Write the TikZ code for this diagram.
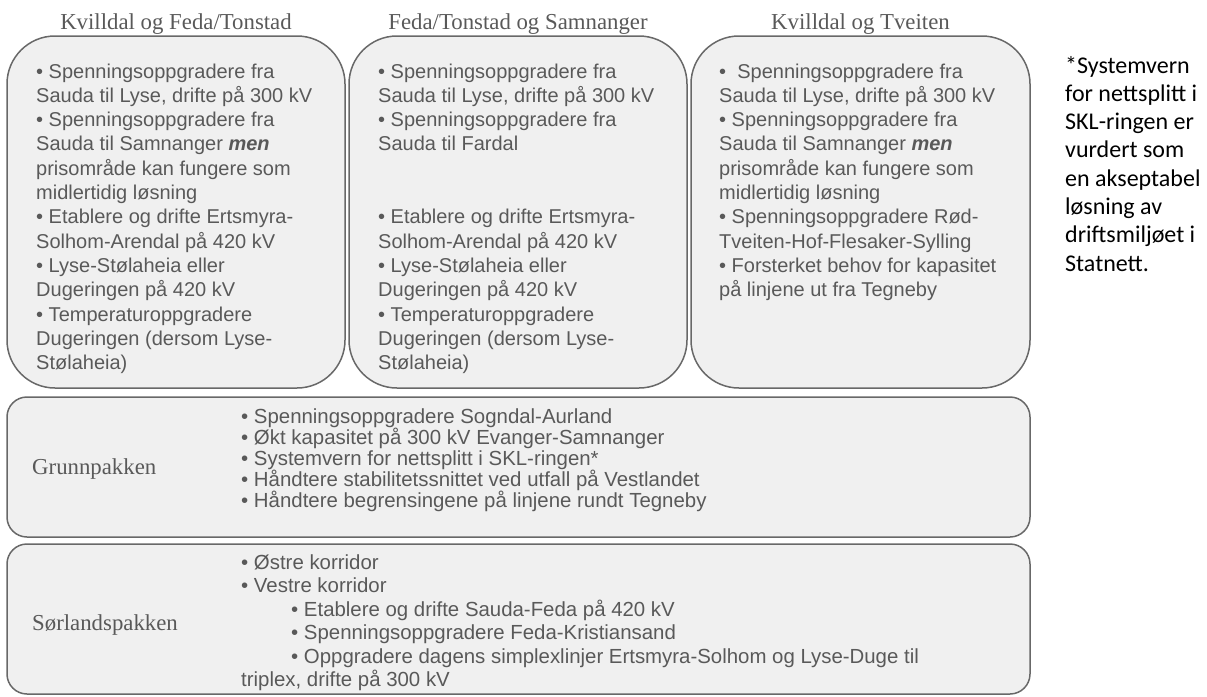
\documentclass[tikz,border=0pt]{standalone}
\usepackage{fontspec}
\setmainfont{Liberation Sans}
\newfontfamily\titlefont{Liberation Serif}
\newfontfamily\notefont{Carlito}
\usetikzlibrary{positioning}
\definecolor{boxfill}{HTML}{F0F0F0}
\definecolor{boxline}{HTML}{686868}
\definecolor{textgray}{HTML}{595959}

\begin{document}
\begin{tikzpicture}[x=1pt,y=-1pt,
        top box/.style={draw=boxline,fill=boxfill,line width=1.5pt,rounded corners=48pt,
            inner sep=0pt,minimum height=352pt},
        pakke box/.style={draw=boxline,fill=boxfill,line width=1.5pt,rounded corners=20pt,
            inner sep=0pt,minimum width=1023pt},
        title node/.style={font=\titlefont\fontsize{22.8}{27}\selectfont,text=textgray,inner sep=0pt},
        list node/.style={font=\fontsize{20}{24.3}\selectfont,text=textgray,align=left,
            inner sep=0pt,anchor=base west}]
        \useasboundingbox (0,0) rectangle (1207,696);
        % three alternatives
        \node[top box,minimum width=338pt] (kvfeda) at (176,212) {};
        \node[top box,minimum width=338pt] (fedasam) at (518,212) {};
        \node[top box,minimum width=339pt] (kvtveit) at (860.5,212) {};
        \node[title node] (kvfeda title) [above=1pt of kvfeda] {Kvilldal og Feda/Tonstad};
        \node[title node] (fedasam title) [above=1pt of fedasam] {Feda/Tonstad og Samnanger};
        \node[title node] (kvtveit title) [above=1pt of kvtveit] {Kvilldal og Tveiten};
        % base anchor sits on the last line
        \node[list node] (kvfeda list) at (36,369.6) {• Spenningsoppgradere fra\\Sauda til Lyse, drifte på 300 kV\\
            • Spenningsoppgradere fra\\Sauda til Samnanger \textbf{\textit{men}}\\prisområde kan fungere som\\
            midlertidig løsning\\• Etablere og drifte Ertsmyra-\\Solhom-Arendal på 420 kV\\
            • Lyse-Stølaheia eller\\Dugeringen på 420 kV\\• Temperaturoppgradere\\
            Dugeringen (dersom Lyse-\\Stølaheia)};
        \node[list node] (fedasam list) at (378,369.6) {• Spenningsoppgradere fra\\Sauda til Lyse, drifte på 300 kV\\
            • Spenningsoppgradere fra\\Sauda til Fardal\\[48.6pt]
            • Etablere og drifte Ertsmyra-\\Solhom-Arendal på 420 kV\\
            • Lyse-Stølaheia eller\\Dugeringen på 420 kV\\• Temperaturoppgradere\\
            Dugeringen (dersom Lyse-\\Stølaheia)};
        \node[list node] (kvtveit list) at (719,296.7) {•~ Spenningsoppgradere fra\\Sauda til Lyse, drifte på 300 kV\\
            • Spenningsoppgradere fra\\Sauda til Samnanger \textbf{\textit{men}}\\prisområde kan fungere som\\
            midlertidig løsning\\• Spenningsoppgradere Rød-\\Tveiten-Hof-Flesaker-Sylling\\
            • Forsterket behov for kapasitet\\på linjene ut fra Tegneby};
        % packages
        \node[pakke box,minimum height=140pt] (grunn) at (518.5,467) {};
        \node[pakke box,minimum height=150pt] (sorland) at (518.5,619) {};
        \node[title node,anchor=base west] (grunn label) at (32,474) {Grunnpakken};
        \node[title node,anchor=base west] (sorland label) at (32,630) {Sørlandspakken};
        \node[list node,font=\fontsize{20.4}{21}\selectfont] (grunn list) at (241,507) {%
            • Spenningsoppgradere Sogndal-Aurland\\• Økt kapasitet på 300 kV Evanger-Samnanger\\
            • Systemvern for nettsplitt i SKL-ringen*\\• Håndtere stabilitetssnittet ved utfall på Vestlandet\\
            • Håndtere begrensingene på linjene rundt Tegneby};
        \node[list node,font=\fontsize{20.4}{23.5}\selectfont] (sorland list) at (241,686.5) {%
            • Østre korridor\\• Vestre korridor\\
            \hspace*{50pt}• Etablere og drifte Sauda-Feda på 420 kV\\
            \hspace*{50pt}• Spenningsoppgradere Feda-Kristiansand\\
            \hspace*{50pt}• Oppgradere dagens simplexlinjer Ertsmyra-Solhom og Lyse-Duge til\\
            triplex, drifte på 300 kV};
        % footnote
        \node[list node,font=\notefont\fontsize{24}{28.3}\selectfont,text=black] (note) at (1065,271.1) {%
            *Systemvern\\for nettsplitt i\\SKL-ringen er\\vurdert som\\en akseptabel\\løsning av\\
            driftsmiljøet i\\Statnett.};
\end{tikzpicture}
\end{document}
